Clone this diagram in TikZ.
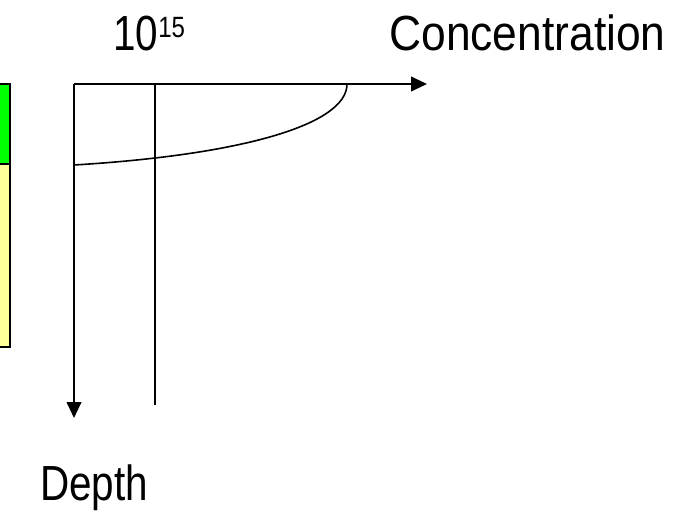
\documentclass[tikz,border=0pt]{standalone}
\usepackage{fontspec}
\setmainfont{Liberation Sans}[FakeStretch=0.82]
\newfontfamily\concfont{Liberation Sans}[FakeStretch=0.9]
\usetikzlibrary{arrows.meta}
\begin{document}
\begin{tikzpicture}[x=0.75pt,y=-0.75pt,
  axis/.style={line width=1.4pt,-{Triangle[length=12pt,width=11pt]}},
  thin line/.style={line width=1.2pt},
  lbl/.style={anchor=base west,inner sep=0pt,font=\fontsize{37}{44}\selectfont}]
\useasboundingbox (0,0) rectangle (684,520);
% layer stack
\path[fill={rgb,255:red,0;green,255;blue,0},draw=black,line width=1.4pt] (-10,84) rectangle (10,164);
\path[fill={rgb,255:red,255;green,255;blue,153},draw=black,line width=1.4pt] (-10,164) rectangle (10,347);
% axes
\coordinate (O) at (74,84);
\coordinate (xend) at (427,84);
\coordinate (yend) at (74,418);
\coordinate (mtop) at (155,84);
\coordinate (mbot) at (155,405);
\coordinate (cL) at (74,165);
\coordinate (cR) at (347,84);
\draw[axis] (O) -- (xend);
\draw[axis] (O) -- (yend);
\draw[thin line] (mtop) -- (mbot);
\draw[thin line] (cL) .. controls (240,155) and (347,125) .. (cR);
% labels
\node[lbl] (dose) at (113,51) {10\raisebox{10pt}{\fontsize{22}{26}\selectfont 15}};
\node[lbl,font=\concfont\fontsize{37}{44}\selectfont] (conc) at (389,51) {Concentration};
\node[lbl] (depth) at (40,500) {Depth};
\end{tikzpicture}
\end{document}
